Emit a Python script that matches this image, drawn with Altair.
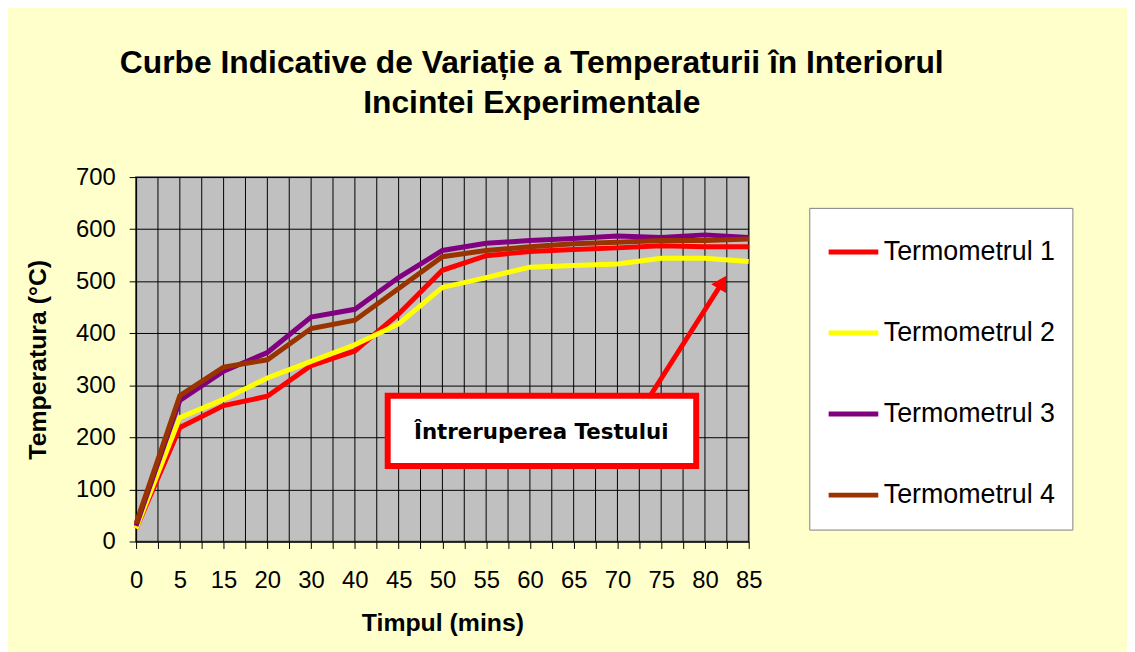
import json
import altair as alt
import pandas as pd

# ---- data ----
categories = ["0", "5", "15", "20", "30", "40", "45", "50", "55", "60", "65", "70", "75", "80", "85"]
series_names = ["Termometrul 1", "Termometrul 2", "Termometrul 3", "Termometrul 4"]
t1 = [25, 219, 261, 279, 338, 366, 437, 521, 549, 557, 561, 564, 568, 566, 566]
t2 = [25, 238, 273, 314, 346, 378, 418, 488, 507, 527, 530, 533, 544, 544, 538]
t3 = [30, 271, 327, 363, 431, 446, 507, 559, 573, 578, 582, 587, 584, 589, 584]
t4 = [35, 280, 335, 349, 409, 425, 486, 547, 559, 566, 572, 575, 578, 578, 581]
series_colors = ["#FF0000", "#FFFF00", "#800080", "#993300"]
y_ticks = [0, 100, 200, 300, 400, 500, 600, 700]

title_lines = ["Curbe Indicative de Variație a Temperaturii în Interiorul", "Incintei Experimentale"]
x_title = "Timpul (mins)"
y_title = "Temperatura (°C)"

# annotation (in category-index / °C units)
note_text = ["Întreruperea Testului"]
note_x = [9.26]
note_y = [196]
box_x = [5.75]
box_x2 = [12.80]
box_y = [145]
box_y2 = [280]
arrow_x = [11.75]
arrow_y = [280]
arrow_x2 = [13.4]
arrow_y2 = [498]

# ---- tables ----
rows = []
for name, vals in zip(series_names, [t1, t2, t3, t4]):
    for i, (c, v) in enumerate(zip(categories, vals)):
        rows.append({"pos": i, "cat": c, "value": v, "series": name})
df = pd.DataFrame(rows)

note_df = pd.DataFrame({"x": note_x, "y": note_y, "text": note_text})
box_df = pd.DataFrame({"x": box_x, "x2": box_x2, "y": box_y, "y2": box_y2})
arrow_df = pd.DataFrame({"x": arrow_x, "y": arrow_y, "x2": arrow_x2, "y2": arrow_y2})

n = len(categories)
x_tick_values = [i / 2 for i in range(2 * n - 1)]
grid_df = pd.DataFrame({"pos": x_tick_values})
label_expr = f"datum.value % 1 == 0 ? {json.dumps(categories)}[datum.value] : ''"

x_scale = alt.Scale(domain=[0, n - 1], nice=False, zero=False)
y_scale = alt.Scale(domain=[0, 700], nice=False)

x_axis = alt.Axis(
    values=x_tick_values, tickCount=len(x_tick_values) + 10, labelExpr=label_expr, title=x_title,
    grid=False,
    tickSize=7, tickColor="black", domainColor="black",
    labelFontSize=24, labelFont="Liberation Sans", labelColor="black",
    labelPadding=20, labelOverlap=False, labelFlush=False, labelBound=False,
    titleFontSize=25, titleFont="Liberation Sans", titleFontWeight="bold", titleColor="black",
    titleY=90, titleBaseline="alphabetic",
)
y_axis = alt.Axis(
    values=y_ticks, tickCount=20, title=y_title,
    grid=True, gridColor="black", gridWidth=1, gridOpacity=1,
    tickSize=7, tickColor="black", domainColor="black",
    labelFontSize=24, labelFont="Liberation Sans", labelColor="black",
    labelPadding=14, labelOverlap=False, labelFlush=False,
    titleFontSize=25, titleFont="Liberation Sans", titleFontWeight="bold", titleColor="black",
    titleX=-86,
)

vgrid = alt.Chart(grid_df).mark_rule(color="black", strokeWidth=1).encode(
    x=alt.X("pos:Q", scale=x_scale, axis=x_axis),
)

lines = alt.Chart(df).mark_line(strokeWidth=5).encode(
    x=alt.X("pos:Q", scale=x_scale, axis=x_axis),
    y=alt.Y("value:Q", scale=y_scale, axis=y_axis),
    color=alt.Color(
        "series:N",
        scale=alt.Scale(domain=series_names, range=series_colors),
        legend=alt.Legend(
            orient="none", legendX=678, legendY=31,
            title=" ", titleFontSize=1, titlePadding=4, titleOrient="bottom",
            symbolType="stroke", symbolSize=2500, symbolStrokeWidth=5,
            labelFontSize=27, labelFont="Liberation Sans", labelColor="black",
            labelLimit=400, labelOffset=3, rowPadding=40.6, padding=17,
            fillColor="white", strokeColor="#808080",
        ),
    ),
    order=alt.Order("pos:Q"),
)

box = alt.Chart(box_df).mark_rect(fill="white", stroke="#FF0000", strokeWidth=6).encode(
    x=alt.X("x:Q", scale=x_scale, axis=x_axis), x2="x2:Q",
    y=alt.Y("y:Q", scale=y_scale, axis=y_axis), y2="y2:Q",
)

note = alt.Chart(note_df).mark_text(
    font="DejaVu Sans", fontWeight="bold", fontSize=21.5, color="black",
    align="center", baseline="alphabetic",
).encode(
    x=alt.X("x:Q", scale=x_scale, axis=x_axis),
    y=alt.Y("y:Q", scale=y_scale, axis=y_axis),
    text="text:N",
)

shaft = alt.Chart(arrow_df).mark_rule(color="#FF0000", strokeWidth=5).encode(
    x=alt.X("x:Q", scale=x_scale, axis=x_axis),
    y=alt.Y("y:Q", scale=y_scale, axis=y_axis),
    x2="x2:Q", y2="y2:Q",
)

head = alt.Chart(arrow_df).mark_point(
    shape="triangle-up", filled=True, size=300, angle=31, color="#FF0000", opacity=1
).encode(
    x=alt.X("x2:Q", scale=x_scale, axis=x_axis),
    y=alt.Y("y2:Q", scale=y_scale, axis=y_axis),
)

chart = alt.layer(vgrid, lines, box, note, shaft, head).properties(
    width=617, height=367,
    title=alt.TitleParams(
        text=title_lines, fontSize=32, font="Liberation Sans", fontWeight="bold",
        color="black", anchor="middle", dx=90, offset=46, lineHeight=40, frame="group",
    ),
    autosize=alt.AutoSizeParams(type="none"),
    padding={"left": 129, "top": 168, "right": 381, "bottom": 109},
    background="#FFFFCC",
).configure_view(
    fill="#C0C0C0", stroke="#808080", strokeWidth=2
)

chart.save("out.html", embed_options={"renderer": "svg", "actions": False})
